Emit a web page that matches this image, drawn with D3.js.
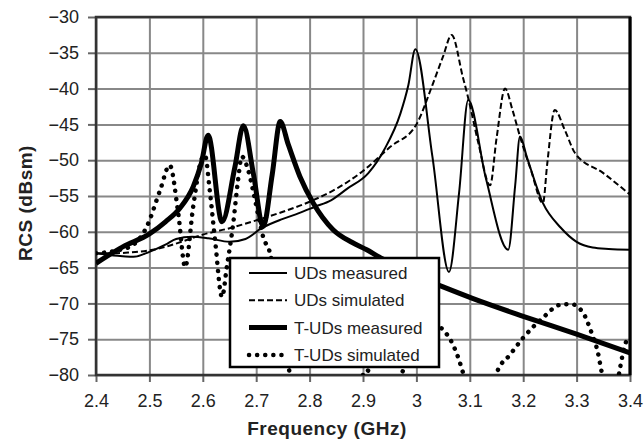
<!DOCTYPE html>
<html>
<head>
<meta charset="utf-8">
<script src="https://cdn.jsdelivr.net/npm/d3@7"></script>
<style>
  body { margin: 0; background: #fff; }
  text { font-family: Arial, "Liberation Sans", sans-serif; fill: #222; }
</style>
</head>
<body>
<div id="chart"></div>
<script>
// tick values
var xTicks = [2.4, 2.5, 2.6, 2.7, 2.8, 2.9, 3.0, 3.1, 3.2, 3.3, 3.4];
var yTicks = [-30, -35, -40, -45, -50, -55, -60, -65, -70, -75, -80];

// UDs measured
var udsMeasF = [2.40,2.42,2.45,2.47,2.50,2.53,2.55,2.58,2.61,2.65,2.68,2.71,2.75,2.78,2.81,2.84,2.87,2.91,2.94,2.97,2.985,2.998,3.03,3.061,3.08,3.097,3.13,3.172,3.185,3.194,3.207,3.237,3.27,3.30,3.33,3.36,3.40];
var udsMeasV = [-63.0,-63.2,-63.4,-63.5,-62.8,-61.8,-61.0,-60.7,-60.9,-61.4,-61.0,-59.5,-58.2,-57.4,-56.5,-55.6,-54.0,-51.8,-48.5,-43.5,-39.5,-34.5,-49.5,-65.6,-54.5,-41.6,-52.5,-62.5,-53.5,-46.7,-49.6,-56.0,-59.4,-61.4,-62.2,-62.4,-62.5];

// UDs simulated
var udsSimF = [2.40,2.43,2.46,2.50,2.53,2.56,2.60,2.65,2.70,2.75,2.80,2.85,2.90,2.95,3.00,3.03,3.05,3.066,3.087,3.097,3.116,3.138,3.15,3.166,3.18,3.194,3.215,3.237,3.245,3.259,3.278,3.297,3.35,3.40];
var udsSimV = [-63.0,-63.0,-62.9,-62.6,-62.1,-61.4,-60.4,-59.5,-58.4,-57.2,-55.8,-54.0,-51.5,-48.2,-45.0,-39.5,-35.5,-32.5,-38.4,-41.3,-47.6,-53.5,-47.0,-40.0,-43.0,-46.7,-51.5,-56.0,-50.5,-43.0,-45.8,-49.0,-51.8,-54.8];

// T-UDs measured
var tudsMeasF = [2.40,2.45,2.50,2.53,2.557,2.582,2.597,2.61,2.636,2.66,2.676,2.695,2.713,2.73,2.745,2.76,2.782,2.807,2.844,2.88,2.907,2.93,2.95,3.00,3.05,3.105,3.20,3.30,3.40];
var tudsMeasV = [-64.4,-62.1,-60.3,-58.6,-56.7,-53.7,-50.5,-46.5,-58.6,-51.0,-45.2,-52.0,-59.3,-52.0,-44.6,-47.8,-52.3,-56.0,-59.7,-61.5,-62.5,-63.5,-64.3,-66.2,-67.7,-69.3,-71.8,-74.3,-76.9];

// T-UDs simulated
var tudsSimF = [2.40,2.44,2.47,2.495,2.52,2.538,2.554,2.567,2.582,2.597,2.604,2.613,2.623,2.636,2.645,2.657,2.666,2.673,2.685,2.694,2.707,2.713,2.726,2.75,2.80,2.88,2.907,2.93,2.955,2.973,2.99,3.02,3.05,3.066,3.078,3.087,3.11,3.135,3.151,3.175,3.20,3.237,3.269,3.29,3.312,3.328,3.34,3.347,3.36,3.372,3.38,3.387,3.397];
var tudsSimV = [-63.0,-62.6,-61.8,-59.3,-54.2,-50.7,-57.4,-64.9,-56.5,-50.0,-49.3,-54.2,-61.2,-69.1,-64.9,-58.8,-52.8,-49.5,-51.4,-54.2,-58.8,-60.7,-63.0,-75.0,-86.0,-84.0,-79.3,-82.0,-82.0,-79.7,-76.5,-72.5,-73.7,-75.4,-77.5,-79.6,-85.0,-85.0,-79.6,-77.2,-74.8,-72.0,-70.2,-70.1,-71.3,-74.1,-76.9,-79.6,-83.0,-83.0,-79.6,-76.9,-74.4];

var seriesNames = ["UDs measured", "UDs simulated", "T-UDs measured", "T-UDs simulated"];

function pairs(f, v) {
  return f.map(function(d, i) { return {f: d, v: v[i]}; });
}

var series = [
  {name: seriesNames[0], data: pairs(udsMeasF, udsMeasV), width: 2, dash: null, cap: "butt"},
  {name: seriesNames[1], data: pairs(udsSimF, udsSimV), width: 2, dash: "6,3", cap: "butt"},
  {name: seriesNames[2], data: pairs(tudsMeasF, tudsMeasV), width: 5, dash: null, cap: "butt"},
  {name: seriesNames[3], data: pairs(tudsSimF, tudsSimV), width: 4.5, dash: "0.1,8", cap: "round"}
];

var margin = {top: 17, right: 14, bottom: 65, left: 96},
    width = 644 - margin.left - margin.right,
    height = 440 - margin.top - margin.bottom;

var svg = d3.select("#chart")
  .append("svg")
  .attr("width", 644)
  .attr("height", 440);

var g = svg.append("g")
  .attr("transform", "translate(" + margin.left + "," + margin.top + ")");

var xScale = d3.scaleLinear().domain([2.4, 3.4]).range([0, width]);
var yScale = d3.scaleLinear().domain([-80, -30]).range([height, 0]);

// gridlines
g.append("g")
  .attr("class", "grid")
  .attr("transform", "translate(0," + height + ")")
  .call(d3.axisBottom(xScale).tickValues(xTicks).tickSize(-height).tickFormat(""))
  .call(function(s) { s.select(".domain").remove(); })
  .selectAll("line").attr("stroke", "#888").attr("stroke-width", 2);

g.append("g")
  .attr("class", "grid")
  .call(d3.axisLeft(yScale).tickValues(yTicks).tickSize(-width).tickFormat(""))
  .call(function(s) { s.select(".domain").remove(); })
  .selectAll("line").attr("stroke", "#888").attr("stroke-width", 2);

// axes with outside ticks and labels
var xAxis = g.append("g")
  .attr("transform", "translate(0," + height + ")")
  .call(d3.axisBottom(xScale).tickValues(xTicks).tickSize(7).tickPadding(12)
    .tickFormat(function(d) { return d === 3 ? "3" : d3.format(".1f")(d); }));
xAxis.select(".domain").remove();
xAxis.selectAll("line").attr("stroke", "#666").attr("stroke-width", 2);
xAxis.selectAll("text").style("font-size", "18px").attr("fill", "#222");

var yAxis = g.append("g")
  .call(d3.axisLeft(yScale).tickValues(yTicks).tickSize(8).tickPadding(9));
yAxis.select(".domain").remove();
yAxis.selectAll("line").attr("stroke", "#666").attr("stroke-width", 2);
yAxis.selectAll("text").style("font-size", "18px").attr("fill", "#222");

// plot border
g.append("rect")
  .attr("width", width).attr("height", height)
  .attr("fill", "none").attr("stroke", "#333").attr("stroke-width", 2.5);
g.append("line")
  .attr("x1", width).attr("x2", width).attr("y1", 0).attr("y2", height)
  .attr("stroke", "#000").attr("stroke-width", 3);

// clip region for the curves
svg.append("defs").append("clipPath").attr("id", "plotclip")
  .append("rect").attr("width", width).attr("height", height);

var line = d3.line()
  .x(function(d) { return xScale(d.f); })
  .y(function(d) { return yScale(d.v); })
  .curve(d3.curveMonotoneX);

g.append("g").attr("clip-path", "url(#plotclip)")
  .selectAll("path")
  .data(series)
  .enter()
  .append("path")
  .attr("d", function(d) { return line(d.data); })
  .attr("fill", "none")
  .attr("stroke", "#000")
  .attr("stroke-width", function(d) { return d.width; })
  .attr("stroke-dasharray", function(d) { return d.dash; })
  .attr("stroke-linecap", function(d) { return d.cap; })
  .attr("stroke-linejoin", "round");

// legend
var legend = g.append("g").attr("transform", "translate(" + (230 - margin.left) + "," + (258 - margin.top) + ")");
legend.append("rect")
  .attr("width", 209).attr("height", 109)
  .attr("fill", "#fff").attr("stroke", "#000").attr("stroke-width", 2.5);

var items = legend.selectAll(".item")
  .data(series)
  .enter()
  .append("g")
  .attr("class", "item")
  .attr("transform", function(d, i) { return "translate(0," + (15 + i * 27.3) + ")"; });

items.append("line")
  .attr("x1", 19).attr("x2", 57)
  .attr("stroke", "#000")
  .attr("stroke-width", function(d) { return d.width; })
  .attr("stroke-dasharray", function(d) { return d.dash; })
  .attr("stroke-linecap", function(d) { return d.cap; });

items.append("text")
  .attr("x", 64).attr("dy", "0.35em")
  .style("font-size", "17px")
  .text(function(d) { return d.name; });

// axis titles
svg.append("text")
  .attr("x", 327).attr("y", 435)
  .attr("text-anchor", "middle")
  .style("font-size", "19px").style("font-weight", "bold").style("letter-spacing", "0.5px")
  .text("Frequency (GHz)");

svg.append("text")
  .attr("transform", "translate(32,203) rotate(-90)")
  .attr("text-anchor", "middle")
  .style("font-size", "19px").style("font-weight", "bold").style("letter-spacing", "0.5px")
  .text("RCS (dBsm)");
</script>
</body>
</html>
